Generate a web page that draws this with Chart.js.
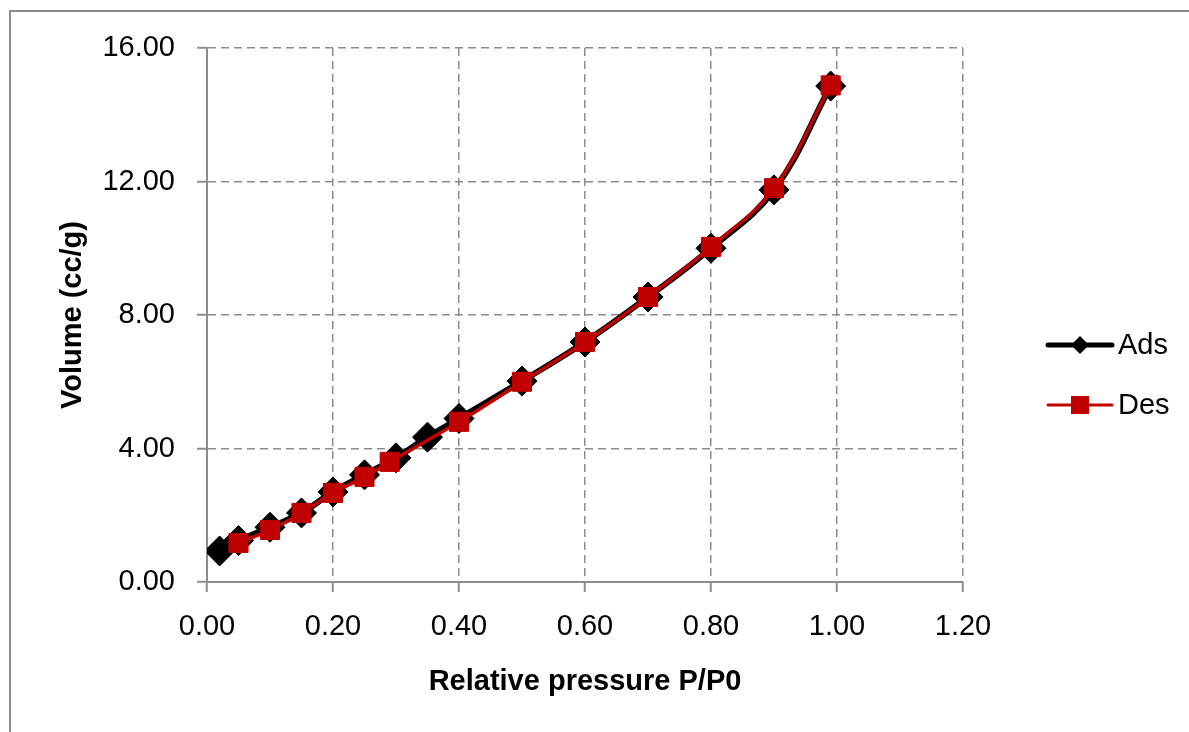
<!DOCTYPE html>
<html>
<head>
<meta charset="utf-8">
<script src="https://cdn.jsdelivr.net/npm/chart.js@4/dist/chart.umd.min.js"></script>
<style>
  html, body { margin: 0; padding: 0; background: #fff; }
  #wrap { position: relative; width: 1189px; height: 732px; }
  #frame { position: absolute; left: 9px; top: 10px; right: 0; bottom: 0;
           border-left: 2px solid #8c8c8c; border-top: 2px solid #8c8c8c; pointer-events: none; }
  canvas { position: absolute; left: 0; top: 0; }
</style>
</head>
<body>
<div id="wrap">
  <div id="frame"></div>
  <canvas id="isoChart" width="1189" height="732"></canvas>
</div>
<script>
const adsX = [0.02, 0.05, 0.10, 0.15, 0.20, 0.25, 0.30, 0.35, 0.40, 0.50, 0.60, 0.70, 0.80, 0.90, 0.99];
const adsY = [0.93, 1.24, 1.64, 2.07, 2.70, 3.21, 3.72, 4.34, 4.90, 6.02, 7.19, 8.54, 10.00, 11.75, 14.86];
const desX = [0.05, 0.10, 0.15, 0.20, 0.25, 0.29, 0.40, 0.50, 0.60, 0.70, 0.80, 0.90, 0.99];
const desY = [1.17, 1.56, 2.07, 2.67, 3.15, 3.60, 4.80, 6.00, 7.19, 8.54, 10.04, 11.80, 14.88];
const seriesNames = ["Ads", "Des"];
const xTicks = [0, 0.2, 0.4, 0.6, 0.8, 1.0, 1.2];
const yTicks = [0, 4, 8, 12, 16];

const FONT = "'Liberation Sans', Arial, sans-serif";
const GRID = "#8c8c8c";
const RED = "#c00000";

const toPoints = (xs, ys) => xs.map((x, i) => ({ x: x, y: ys[i] }));

// legend drawn beside the plot, Excel style (line with marker)
const sideLegend = {
    id: "sideLegend",
    afterDraw(chart) {
        const ctx = chart.ctx;
        const rows = [
            { y: 345, color: "#000", width: 5, shape: "diamond" },
            { y: 405, color: RED, width: 3, shape: "square" }
        ];
        ctx.save();
        rows.forEach((r, i) => {
            ctx.strokeStyle = r.color;
            ctx.lineWidth = r.width;
            ctx.lineCap = "round";
            ctx.beginPath();
            ctx.moveTo(1048, r.y);
            ctx.lineTo(1112, r.y);
            ctx.stroke();
            ctx.fillStyle = r.color;
            ctx.beginPath();
            if (r.shape === "diamond") {
                ctx.moveTo(1080, r.y - 9);
                ctx.lineTo(1089, r.y);
                ctx.lineTo(1080, r.y + 9);
                ctx.lineTo(1071, r.y);
                ctx.closePath();
            } else {
                ctx.rect(1071, r.y - 9, 18, 18);
            }
            ctx.fill();
            ctx.fillStyle = "#000";
            ctx.font = "29px " + FONT;
            ctx.textAlign = "left";
            ctx.textBaseline = "middle";
            ctx.fillText(seriesNames[i], 1118, r.y + 1);
        });
        ctx.restore();
    }
};

new Chart(document.getElementById("isoChart"), {
    type: "line",
    data: {
        datasets: [
            {
                label: seriesNames[0],
                data: toPoints(adsX, adsY),
                borderColor: "#000",
                backgroundColor: "#000",
                borderWidth: 6,
                tension: 0.4,
                pointStyle: "rectRot",
                pointRadius: 15,
                pointBorderWidth: 1,
                pointBackgroundColor: "#000",
                pointBorderColor: "#000",
                order: 2
            },
            {
                label: seriesNames[1],
                data: toPoints(desX, desY),
                borderColor: RED,
                backgroundColor: RED,
                borderWidth: 3.5,
                tension: 0.4,
                pointStyle: "rect",
                pointRadius: 13.5,
                pointBorderWidth: 1,
                pointBackgroundColor: RED,
                pointBorderColor: RED,
                order: 1
            }
        ]
    },
    options: {
        responsive: false,
        animation: false,
        layout: { padding: { left: 0, top: 48, right: 226, bottom: 0 } },
        plugins: {
            legend: { display: false },
            tooltip: { enabled: false }
        },
        scales: {
            x: {
                type: "linear",
                min: xTicks[0],
                max: xTicks[xTicks.length - 1],
                afterBuildTicks: (scale) => { scale.ticks = xTicks.map(v => ({ value: v })); },
                afterFit: (scale) => { scale.height = 150; },
                ticks: {
                    color: "#000",
                    padding: 18,
                    font: { family: FONT, size: 29 },
                    callback: (v) => Number(v).toFixed(2)
                },
                grid: { color: GRID, lineWidth: 1.5, tickLength: 10, tickColor: GRID, tickWidth: 2, tickBorderDash: [] },
                border: { display: true, color: GRID, width: 2, dash: [8, 5] },
                title: {
                    display: true,
                    text: "Relative pressure P/P0",
                    color: "#000",
                    font: { family: FONT, size: 29, weight: "bold" },
                    padding: { top: 0, bottom: 33 }
                }
            },
            y: {
                min: yTicks[0],
                max: yTicks[yTicks.length - 1],
                afterBuildTicks: (scale) => { scale.ticks = yTicks.map(v => ({ value: v })); },
                afterFit: (scale) => { scale.width = 207; },
                ticks: {
                    color: "#000",
                    padding: 22,
                    font: { family: FONT, size: 29 },
                    callback: (v) => Number(v).toFixed(2)
                },
                grid: { color: GRID, lineWidth: 1.5, tickLength: 10, tickColor: GRID, tickWidth: 2, tickBorderDash: [] },
                border: { display: true, color: GRID, width: 2, dash: [8, 5] },
                title: {
                    display: true,
                    text: "Volume (cc/g)",
                    color: "#000",
                    font: { family: FONT, size: 29, weight: "bold" },
                    padding: { top: 56, bottom: 0 }
                }
            }
        }
    },
    plugins: [sideLegend]
});
</script>
</body>
</html>
